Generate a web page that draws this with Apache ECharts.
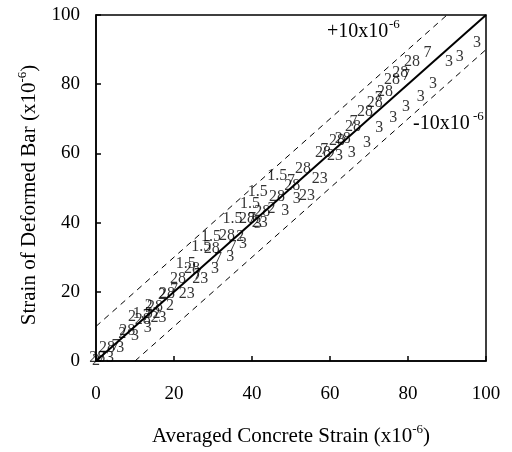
<!DOCTYPE html>
<html>
<head>
<meta charset="utf-8">
<script src="https://cdn.jsdelivr.net/npm/echarts@6/dist/echarts.min.js"></script>
<style>html,body{margin:0;padding:0;background:#fff}#c{width:512px;height:452px}</style>
</head>
<body>
<div id="c"></div>
<script>
var axisTicks = [0, 20, 40, 60, 80, 100];
var lineEq = [[0, 0], [100, 100]];
var linePlus = [[0, 10], [90, 100]];
var lineMinus = [[10, 0], [100, 90]];

var pts3 = [[97.7,92],[93.3,88],[90.5,86.5],[86.4,80],[83.3,76.4],[79.5,73.6],[76.2,70.4],[72.6,67.5],[69.5,63.2],[65.6,60.1],[51.5,46.8],[48.5,43.4],[41.5,39.7],[37.7,33.9],[34.4,30.2],[30.5,26.7],[13.3,9.5],[10,7.2],[6.2,3.7],[3.6,0.9]];
var pts23 = [[61.3,59.2],[57.4,52.6],[54.1,47.7],[42,40],[26.7,23.9],[23.3,19.5],[16,12.5]];
var pts28 = [[81,86.5],[78,83.3],[75.9,81.3],[74.1,77.9],[71.5,74.7],[69,72],[65.9,67.8],[63.3,64.1],[61.8,63.5],[58.2,60.3],[53.1,55.5],[50.3,50.6],[46.4,47.4],[42.6,43.1],[38.7,41.1],[33.6,36.2],[29.7,32.5],[24.6,26.7],[21,23.9],[18.2,19.5],[15.1,15.8],[12,11.8],[8,8.6],[2.8,3.7],[0.3,0.9]];
var pts15 = [[46.5,53.5],[41.5,49],[39.5,45.5],[35,41],[29.5,36],[27,33],[23,28],[12,13.5]];
var pts7 = [[85,89],[79.5,82.5],[72.5,76],[66,69],[58.5,61],[50,52],[40,41],[35,33],[31.3,29.6],[26,25],[20,20.5],[13,13],[5,4.5],[1.5,1]];
var pts2 = [[16.9,19],[13.5,16],[9.2,12.9],[6.7,8],[19,16],[15.5,13.5],[0,0],[45,44],[37,36]];

var FONT = 'Liberation Serif';

function textSeries(name, data, txt) {
  return {
    name: name, type: 'scatter', data: data, symbolSize: 1,
    itemStyle: {color: 'rgba(0,0,0,0)'},
    label: {show: true, position: 'inside', formatter: txt, color: '#000', fontFamily: FONT, fontSize: 16},
    silent: true, z: 3
  };
}
function lineSeries(name, data, type, width) {
  return {
    name: name, type: 'line', data: data, symbol: 'none', silent: true, z: 2,
    lineStyle: {color: '#000', width: width, type: type}
  };
}

var chart = echarts.init(document.getElementById('c'));
chart.setOption({
  animation: false,
  backgroundColor: '#fff',
  grid: {left: 96, right: 26, top: 15, bottom: 89, show: true, borderColor: '#000', borderWidth: 1.5},
  xAxis: {
    type: 'value', min: 0, max: 100, interval: 20,
    axisLine: {lineStyle: {color: '#000', width: 1.5}},
    axisTick: {inside: true, length: 5, lineStyle: {color: '#000', width: 1.5}},
    splitLine: {show: false},
    axisLabel: {color: '#000', fontFamily: FONT, fontSize: 19, margin: 24},
    name: '{n|Averaged Concrete Strain (x10}{s|-6}{n|)}',
    nameLocation: 'middle', nameGap: 62,
    nameTextStyle: {rich: {
      n: {fontFamily: FONT, fontSize: 21, color: '#000', lineHeight: 24, verticalAlign: 'bottom'},
      s: {fontFamily: FONT, fontSize: 13, color: '#000', lineHeight: 24, verticalAlign: 'top'}
    }}
  },
  yAxis: {
    type: 'value', min: 0, max: 100, interval: 20,
    axisLine: {lineStyle: {color: '#000', width: 1.5}},
    axisTick: {inside: true, length: 5, lineStyle: {color: '#000', width: 1.5}},
    splitLine: {show: false},
    axisLabel: {color: '#000', fontFamily: FONT, fontSize: 19, margin: 16},
    name: '{n|Strain of Deformed Bar (x10}{s|-6}{n|)}',
    nameLocation: 'middle', nameGap: 56,
    nameTextStyle: {padding: [0, 14, 0, 0], rich: {
      n: {fontFamily: FONT, fontSize: 21, color: '#000', lineHeight: 24, verticalAlign: 'bottom'},
      s: {fontFamily: FONT, fontSize: 13, color: '#000', lineHeight: 24, verticalAlign: 'top'}
    }}
  },
  graphic: [
    {type: 'text', left: 327, top: 22, style: {text: '+10x10', fontFamily: FONT, fontSize: 20, fill: '#000'}},
    {type: 'text', left: 389, top: 18, style: {text: '-6', fontFamily: FONT, fontSize: 13, fill: '#000'}},
    {type: 'text', left: 413, top: 114, style: {text: '-10x10', fontFamily: FONT, fontSize: 20, fill: '#000'}},
    {type: 'text', left: 473, top: 110, style: {text: '-6', fontFamily: FONT, fontSize: 13, fill: '#000'}}
  ],
  series: [
    lineSeries('y=x', lineEq, 'solid', 2),
    lineSeries('+10', linePlus, [6, 5], 1),
    lineSeries('-10', lineMinus, [6, 5], 1),
    textSeries('3', pts3, '3'),
    textSeries('23', pts23, '23'),
    textSeries('28', pts28, '28'),
    textSeries('1.5', pts15, '1.5'),
    textSeries('7', pts7, '7'),
    textSeries('2', pts2, '2')
  ]
});
</script>
</body>
</html>
